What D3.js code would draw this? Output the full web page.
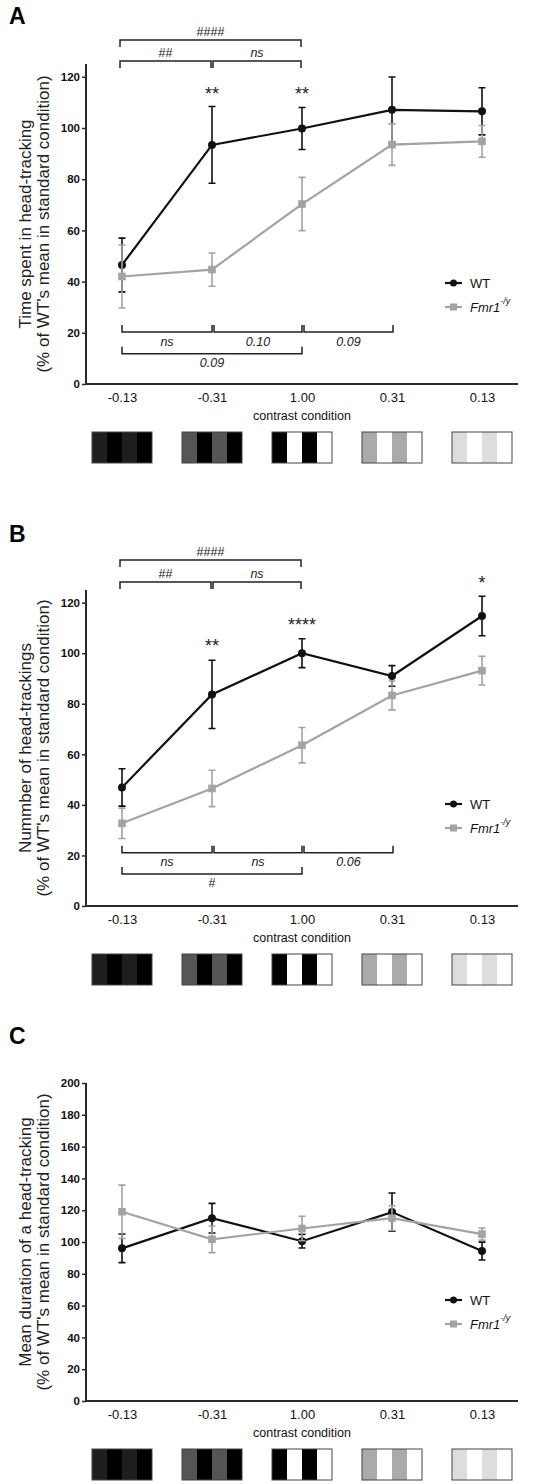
<!DOCTYPE html>
<html><head><meta charset="utf-8">
<script src="https://cdn.jsdelivr.net/npm/d3@7"></script>
<style>body{margin:0;background:#fff} svg{display:block} text{font-family:"Liberation Sans",Arial,sans-serif}</style>
</head><body>
<svg id="chart" width="551" height="1484"></svg>
<script>
// ---------- data ----------
const categories = ["-0.13", "-0.31", "1.00", "0.31", "0.13"];
const gratingBar = ["#1e1e1e", "#555555", "#000000", "#aaaaaa", "#dddddd"];
const gratingGap = ["#000000", "#000000", "#ffffff", "#ffffff", "#ffffff"];
const seriesNames = ["WT", "Fmr1"];

// Panel A: time spent in head-tracking
const aWT = [46.5, 93.4, 99.8, 107.1, 106.5];
const aWTerr = [10.5, 15.0, 8.2, 12.8, 9.2];
const aKO = [42.0, 44.7, 70.3, 93.5, 94.8];
const aKOerr = [12.3, 6.5, 10.4, 8.1, 6.2];
const aTicks = [0, 20, 40, 60, 80, 100, 120];
const aTopBrackets = [
  {from: "-0.13", to: "1.00", level: 134.4, label: "####", italic: false},
  {from: "-0.13", to: "-0.31", level: 126.2, label: "##", italic: false},
  {from: "-0.31", to: "1.00", level: 126.2, label: "ns", italic: true}
];
const aBottomBrackets = [
  {from: "-0.13", to: "-0.31", level: 20.3, label: "ns", italic: true},
  {from: "-0.31", to: "1.00", level: 20.3, label: "0.10", italic: true},
  {from: "1.00", to: "0.31", level: 20.3, label: "0.09", italic: true},
  {from: "-0.13", to: "1.00", level: 11.8, label: "0.09", italic: true}
];
const aStars = [
  {cat: "-0.31", level: 111.0, label: "**"},
  {cat: "1.00", level: 111.0, label: "**"}
];

// Panel B: number of head-trackings
const bWT = [46.9, 83.7, 100.0, 91.0, 114.7];
const bWTerr = [7.4, 13.5, 5.7, 4.1, 7.8];
const bKO = [32.7, 46.5, 63.6, 83.3, 93.1];
const bKOerr = [6.0, 7.2, 7.0, 5.7, 5.7];
const bTicks = [0, 20, 40, 60, 80, 100, 120];
const bTopBrackets = [
  {from: "-0.13", to: "1.00", level: 136.9, label: "####", italic: false},
  {from: "-0.13", to: "-0.31", level: 128.2, label: "##", italic: false},
  {from: "-0.31", to: "1.00", level: 128.2, label: "ns", italic: true}
];
const bBottomBrackets = [
  {from: "-0.13", to: "-0.31", level: 21.1, label: "ns", italic: true},
  {from: "-0.31", to: "1.00", level: 21.1, label: "ns", italic: true},
  {from: "1.00", to: "0.31", level: 21.1, label: "0.06", italic: true},
  {from: "-0.13", to: "1.00", level: 12.7, label: "#", italic: false}
];
const bStars = [
  {cat: "-0.31", level: 100.3, label: "**"},
  {cat: "1.00", level: 108.7, label: "****"},
  {cat: "0.13", level: 125.3, label: "*"}
];

// Panel C: mean duration of a head-tracking
const cWT = [96.0, 115.0, 100.5, 118.8, 94.3];
const cWTerr = [9.0, 9.3, 4.3, 12.0, 5.6];
const cKO = [119.0, 101.7, 108.5, 115.0, 105.0];
const cKOerr = [16.8, 8.4, 7.7, 7.8, 3.8];
const cTicks = [0, 20, 40, 60, 80, 100, 120, 140, 160, 180, 200];

// ---------- layout ----------
const panels = [
  {letter: "A", letterY: 24, top: 64, bottom: 384, max: 125, ticks: aTicks,
   labels: ["Time spent in head-tracking", "(% of WT's mean in standard condition)"],
   wt: aWT, wtErr: aWTerr, ko: aKO, koErr: aKOerr,
   topBr: aTopBrackets, botBr: aBottomBrackets, stars: aStars, legendY: 283},
  {letter: "B", letterY: 542, top: 590, bottom: 906, max: 125, ticks: bTicks,
   labels: ["Nummber of head-trackings", "(% of WT's mean in standard condition)"],
   wt: bWT, wtErr: bWTerr, ko: bKO, koErr: bKOerr,
   topBr: bTopBrackets, botBr: bBottomBrackets, stars: bStars, legendY: 804},
  {letter: "C", letterY: 1044, top: 1083, bottom: 1401, max: 200, ticks: cTicks,
   labels: ["Mean duration of a head-tracking", "(% of WT's mean in standard condition)"],
   wt: cWT, wtErr: cWTerr, ko: cKO, koErr: cKOerr,
   topBr: [], botBr: [], stars: [], legendY: 1300}
];

const svg = d3.select("#chart");
const axisLeft = 86, axisRight = 518;
const x = d3.scalePoint().domain(categories).range([axisLeft, axisRight]).padding(0.4);
const black = "#111", gray = "#a3a3a3", axisCol = "#2a2a2a";

panels.forEach(p => {
  const g = svg.append("g");
  const y = d3.scaleLinear().domain([0, p.max]).range([p.bottom, p.top]);

  g.append("text").attr("x", 9).attr("y", p.letterY).attr("font-size", 23)
    .attr("font-weight", "bold").text(p.letter);

  // y axis
  const ya = g.append("g").attr("transform", `translate(${axisLeft},0)`)
    .call(d3.axisLeft(y).tickValues(p.ticks).tickSize(4).tickPadding(2).tickFormat(d3.format("d")));
  ya.select(".domain").attr("stroke", axisCol).attr("stroke-width", 2).attr("d", `M0,${p.top}V${p.bottom}`);
  ya.selectAll(".tick line").attr("stroke", axisCol).attr("stroke-width", 1.5);
  ya.selectAll(".tick text").attr("font-size", 11.5).attr("font-weight", "bold").attr("fill", "#111")
    .style("font-family", '"Liberation Sans",Arial,sans-serif');

  // x axis
  const xa = g.append("g").attr("transform", `translate(0,${p.bottom})`)
    .call(d3.axisBottom(x).tickSize(0).tickPadding(9));
  xa.select(".domain").attr("stroke", axisCol).attr("stroke-width", 2).attr("d", `M${axisLeft - 1},0H${axisRight}`);
  xa.selectAll(".tick text").attr("font-size", 13).attr("fill", "#111")
    .style("font-family", '"Liberation Sans",Arial,sans-serif');

  g.append("text").attr("x", x("1.00")).attr("y", p.bottom + 35.5).attr("text-anchor", "middle")
    .attr("font-size", 12.5).attr("fill", "#111").text("contrast condition");

  // y label
  const mid = (p.top + p.bottom) / 2;
  p.labels.forEach((t, i) => {
    g.append("text").attr("transform", `translate(${25 + i * 18.5},${mid}) rotate(-90)`)
      .attr("text-anchor", "middle").attr("dy", "0.35em").attr("font-size", 17).attr("fill", "#222").text(t);
  });

  // gratings
  const gw = 60, gh = 31, gt = p.bottom + 48;
  categories.forEach((c, i) => {
    const gg = g.append("g").attr("transform", `translate(${x(c) - gw / 2},${gt})`);
    [0, 1, 2, 3].forEach(k => {
      gg.append("rect").attr("x", k * gw / 4).attr("y", 0).attr("width", gw / 4).attr("height", gh)
        .attr("fill", k % 2 === 0 ? gratingBar[i] : gratingGap[i]);
    });
    gg.append("rect").attr("x", 0).attr("y", 0).attr("width", gw).attr("height", gh)
      .attr("fill", "none").attr("stroke", "#444").attr("stroke-width", 1);
  });

  // series
  const series = [
    {name: seriesNames[0], vals: p.wt, err: p.wtErr, color: black, shape: "circle"},
    {name: seriesNames[1], vals: p.ko, err: p.koErr, color: gray, shape: "square"}
  ];
  series.forEach(s => {
    const sg = g.append("g");
    const pts = categories.map((c, i) => ({c, v: s.vals[i], e: s.err[i]}));
    sg.selectAll("path.err").data(pts).enter().append("path")
      .attr("d", d => {
        const cx = x(d.c), y1 = y(d.v + d.e), y2 = y(d.v - d.e);
        return `M${cx},${y1}V${y2}M${cx - 3.5},${y1}H${cx + 3.5}M${cx - 3.5},${y2}H${cx + 3.5}`;
      })
      .attr("stroke", s.color).attr("stroke-width", 1.6).attr("fill", "none");
    sg.append("path").datum(pts)
      .attr("d", d3.line().x(d => x(d.c)).y(d => y(d.v)))
      .attr("stroke", s.color).attr("stroke-width", 2.2).attr("fill", "none");
    if (s.shape === "circle") {
      sg.selectAll("circle").data(pts).enter().append("circle")
        .attr("cx", d => x(d.c)).attr("cy", d => y(d.v)).attr("r", 4).attr("fill", s.color);
    } else {
      sg.selectAll("rect").data(pts).enter().append("rect")
        .attr("x", d => x(d.c) - 3.8).attr("y", d => y(d.v) - 3.8).attr("width", 7.6).attr("height", 7.6)
        .attr("fill", s.color);
    }
  });

  // top brackets (ticks down)
  p.topBr.forEach(b => {
    const x1 = x(b.from) - (b.from === "-0.13" ? 2 : -1), x2 = x(b.to) - 1, yy = y(b.level);
    g.append("path").attr("d", `M${x1},${yy + 7}V${yy}H${x2}V${yy + 7}`)
      .attr("stroke", "#222").attr("stroke-width", 1.5).attr("fill", "none");
    g.append("text").attr("x", (x1 + x2) / 2).attr("y", yy - 4).attr("text-anchor", "middle")
      .attr("font-size", 12.5).attr("font-style", b.italic ? "italic" : "normal").attr("fill", "#222").text(b.label);
  });
  // bottom brackets (ticks up)
  p.botBr.forEach(b => {
    const x1 = x(b.from) + (b.from === "-0.13" ? 0 : 2), x2 = x(b.to) + (b.to === "0.31" ? 1 : 0), yy = y(b.level);
    g.append("path").attr("d", `M${x1},${yy - 7}V${yy}H${x2}V${yy - 7}`)
      .attr("stroke", "#222").attr("stroke-width", 1.5).attr("fill", "none");
    g.append("text").attr("x", (x1 + x2) / 2).attr("y", yy + 13.5).attr("text-anchor", "middle")
      .attr("font-size", 12.5).attr("font-style", b.italic ? "italic" : "normal").attr("fill", "#222").text(b.label);
  });
  // stars
  p.stars.forEach(s => {
    g.append("text").attr("x", x(s.cat)).attr("y", y(s.level)).attr("text-anchor", "middle")
      .attr("font-size", 18).attr("fill", "#222").text(s.label);
  });

  // legend
  const lx = 445;
  series.forEach((s, i) => {
    const ly = p.legendY + i * 24;
    g.append("line").attr("x1", lx).attr("x2", lx + 17).attr("y1", ly).attr("y2", ly)
      .attr("stroke", s.color).attr("stroke-width", 2.2);
    if (s.shape === "circle") g.append("circle").attr("cx", lx + 8.5).attr("cy", ly).attr("r", 3.5).attr("fill", s.color);
    else g.append("rect").attr("x", lx + 5).attr("y", ly - 3.5).attr("width", 7).attr("height", 7).attr("fill", s.color);
    const t = g.append("text").attr("x", lx + 25).attr("y", ly).attr("dy", "0.36em")
      .attr("font-size", 13).attr("fill", "#111");
    if (i === 0) t.text(s.name);
    else {
      t.append("tspan").attr("font-style", "italic").text(s.name);
      t.append("tspan").attr("font-style", "italic").attr("font-size", 9).attr("dy", "-0.9em").text("-/y");
    }
  });
});
</script>
</body></html>
